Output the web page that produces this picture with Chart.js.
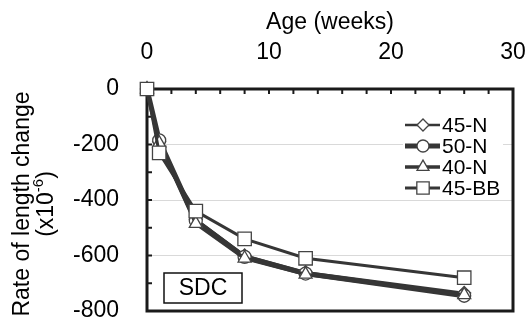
<!DOCTYPE html>
<html>
<head>
<meta charset="utf-8">
<script src="https://cdn.jsdelivr.net/npm/chart.js@4.4.1/dist/chart.umd.min.js"></script>
<style>
  html, body { margin: 0; padding: 0; background: #fff; }
</style>
</head>
<body>
<canvas id="chart" width="529" height="323"></canvas>
<script>
// values
const weeks = [0, 1, 4, 8, 13, 26];
const seriesNames = ['45-N', '50-N', '40-N', '45-BB'];
const n45 = [0, -190, -470, -600, -660, -735];
const n50 = [0, -185, -475, -605, -665, -745];
const n40 = [0, -195, -485, -610, -668, -742];
const bb45 = [0, -230, -440, -540, -610, -680];
const xTicks = [0, 10, 20, 30];
const yTicks = [0, -200, -400, -600, -800];

const FONT = 'Liberation Sans, Arial, sans-serif';
const LINE = '#363636';

const styles = [
  { pointStyle: 'rectRot', radius: 6.5, width: 2.5 },
  { pointStyle: 'circle', radius: 6.5, width: 5 },
  { pointStyle: 'triangle', radius: 7.5, width: 3.5 },
  { pointStyle: 'rect', radius: 9.5, width: 3 }
];
const values = [n45, n50, n40, bb45];
const drawOrder = [3, 2, 1, 0];

const datasets = values.map((vals, i) => ({
  label: seriesNames[i],
  data: weeks.map((w, j) => ({ x: w, y: vals[j] })),
  showLine: true,
  borderColor: LINE,
  borderWidth: styles[i].width,
  pointStyle: styles[i].pointStyle,
  pointRadius: styles[i].radius,
  pointBackgroundColor: '#fff',
  pointBorderColor: '#444',
  pointBorderWidth: 1.3,
  clip: false,
  order: drawOrder[i]
}));

function noPad(s) {
  s.paddingLeft = 0;
  s.paddingRight = 0;
  s.paddingTop = 0;
  s.paddingBottom = 0;
}

const framePlugin = {
  id: 'frame',
  beforeDatasetsDraw(chart) {
    const { ctx, chartArea: a, scales } = chart;
    ctx.save();
    ctx.strokeStyle = '#1a1a1a';
    ctx.lineWidth = 2;
    for (let v = -800; v <= 0; v += 100) {
      const y = scales.y.getPixelForValue(v);
      ctx.beginPath(); ctx.moveTo(a.left, y); ctx.lineTo(a.left + 5, y); ctx.stroke();
    }
    for (let v = 0; v <= 30; v += 2) {
      const x = scales.x.getPixelForValue(v);
      ctx.beginPath(); ctx.moveTo(x, a.top); ctx.lineTo(x, a.top + 5); ctx.stroke();
    }
    ctx.lineWidth = 3;
    ctx.strokeRect(a.left, a.top, a.right - a.left, a.bottom - a.top);
    ctx.restore();
  },
  afterDraw(chart) {
    const { ctx, chartArea: a } = chart;
    ctx.save();

    // y axis title
    const cy = (a.top + a.bottom) / 2 + 4;
    ctx.fillStyle = '#000';
    ctx.textBaseline = 'middle';
    ctx.translate(23, cy);
    ctx.rotate(-Math.PI / 2);
    ctx.font = '23px ' + FONT;
    ctx.textAlign = 'center';
    ctx.fillText('Rate of length change', 0, 0);
    const p1 = '(x10', p2 = '-6', p3 = ')';
    const w1 = ctx.measureText(p1).width, w3 = ctx.measureText(p3).width;
    ctx.font = '15px ' + FONT;
    const w2 = ctx.measureText(p2).width;
    let sx = -(w1 + w2 + w3) / 2;
    ctx.textAlign = 'left';
    ctx.font = '23px ' + FONT;
    ctx.fillText(p1, sx, 24);
    ctx.font = '15px ' + FONT;
    ctx.fillText(p2, sx + w1, 16);
    ctx.font = '23px ' + FONT;
    ctx.fillText(p3, sx + w1 + w2, 24);
    ctx.restore();

    // legend
    ctx.save();
    const ly = 125, step = 21;
    ctx.fillStyle = '#fff';
    ctx.fillRect(403, ly - 11, 100, step * 4);
    chart.data.datasets.forEach((ds, i) => {
      const y = ly + i * step;
      ctx.strokeStyle = LINE;
      ctx.lineWidth = ds.borderWidth;
      ctx.beginPath(); ctx.moveTo(405, y); ctx.lineTo(440, y); ctx.stroke();
      ctx.fillStyle = '#fff';
      ctx.strokeStyle = '#444';
      ctx.lineWidth = 1.3;
      Chart.helpers.drawPoint(ctx, { pointStyle: ds.pointStyle, radius: ds.pointRadius * 0.92, borderWidth: 1.3, rotation: 0 }, 423, y);
      ctx.fillStyle = '#000';
      ctx.font = '21px ' + FONT;
      ctx.textAlign = 'left';
      ctx.textBaseline = 'middle';
      ctx.fillText(ds.label, 442, y + 1);
    });

    // SDC label
    const bx = a.left + 17, by = a.bottom - 38;
    ctx.fillStyle = '#fff';
    ctx.fillRect(bx, by, 78, 30);
    ctx.strokeStyle = '#111';
    ctx.lineWidth = 1.5;
    ctx.strokeRect(bx, by, 78, 30);
    ctx.fillStyle = '#000';
    ctx.font = '23px ' + FONT;
    ctx.textAlign = 'center';
    ctx.fillText('SDC', bx + 39, by + 16);
    ctx.restore();
  }
};

new Chart(document.getElementById('chart'), {
  type: 'scatter',
  data: { datasets },
  options: {
    responsive: false,
    animation: false,
    devicePixelRatio: 1,
    layout: { padding: { left: 0, top: 0, right: 16, bottom: 12 } },
    plugins: { legend: { display: false }, tooltip: { enabled: false } },
    scales: {
      x: {
        type: 'linear',
        position: 'top',
        min: 0,
        max: 30,
        afterBuildTicks: s => { s.ticks = xTicks.map(v => ({ value: v })); },
        afterFit: s => { s.height = 89; noPad(s); },
        grid: { display: false, drawTicks: false },
        border: { display: false },
        ticks: { color: '#000', font: { family: FONT, size: 23 }, padding: 23, maxRotation: 0 },
        title: { display: true, text: 'Age (weeks)', color: '#000', font: { family: FONT, size: 23 }, padding: { top: 9, bottom: 0 } }
      },
      y: {
        type: 'linear',
        min: -800,
        max: 0,
        afterBuildTicks: s => { s.ticks = yTicks.map(v => ({ value: v })); },
        afterFit: s => { s.width = 147; noPad(s); },
        grid: { color: '#d9d9d9', lineWidth: 1, drawTicks: false },
        border: { display: false },
        ticks: { color: '#000', font: { family: FONT, size: 23 }, padding: 28 }
      }
    }
  },
  plugins: [framePlugin]
});
</script>
</body>
</html>
